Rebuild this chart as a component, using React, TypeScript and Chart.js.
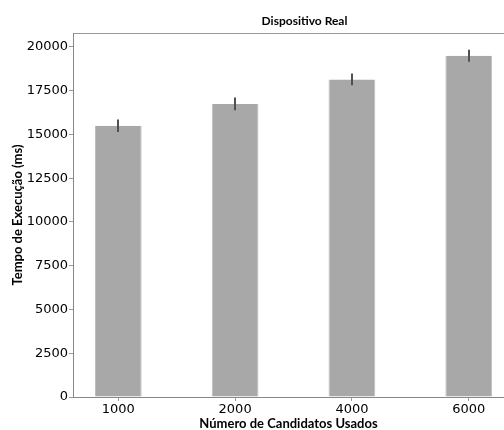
import React, { useEffect, useRef } from 'react';
import { Chart, registerables } from 'chart.js';

Chart.register(...registerables);

const titleText = 'Dispositivo Real';
const xTitle = 'Número de Candidatos Usados';
const yTitle = 'Tempo de Execução (ms)';
const categories = ['1000', '2000', '4000', '6000'];
const times = [15500, 16750, 18150, 19500];
const errors = [360, 360, 330, 340];
const yTicks = [0, 2500, 5000, 7500, 10000, 12500, 15000, 17500, 20000];

export default function App() {
  const ref = useRef<HTMLCanvasElement>(null);

  useEffect(() => {
    if (!ref.current) return;
    const xMin = -0.388;
    const xMax = 3.302;

    const errorBars = {
      id: 'errorBars',
      afterDatasetsDraw(chart: any) {
        const { ctx, scales } = chart;
        const x = scales.x;
        const y = scales.y;
        ctx.save();
        ctx.strokeStyle = '#505050';
        ctx.lineWidth = 2;
        times.forEach((v, i) => {
          const px = Math.round(x.getPixelForValue(i));
          ctx.beginPath();
          ctx.moveTo(px, y.getPixelForValue(v - errors[i]));
          ctx.lineTo(px, y.getPixelForValue(v + errors[i]));
          ctx.stroke();
        });
        ctx.restore();
      },
    };

    const figTitle = {
      id: 'figTitle',
      afterDraw(chart: any) {
        const { ctx, chartArea } = chart;
        ctx.save();
        ctx.font = 'bold 12px Lato';
        ctx.fillStyle = '#000';
        ctx.textAlign = 'center';
        ctx.textBaseline = 'middle';
        ctx.fillText(titleText, chartArea.left + 231.5, chartArea.top - 12);
        ctx.restore();
      },
    };

    const tickFont = { family: 'DejaVu Sans', size: 13 };
    const titleFont = { family: 'Lato', size: 13, weight: 'bold' as const, lineHeight: 1 };

    const chart = new Chart(ref.current, {
      type: 'bar',
      data: {
        datasets: [
          {
            data: times.map((v, i) => ({ x: i, y: v })),
            backgroundColor: '#a8a8a8',
            borderColor: '#bdbdbd',
            borderWidth: { left: 1, right: 1, top: 0, bottom: 0 },
            borderSkipped: false,
            barPercentage: 0.4,
            categoryPercentage: 1,
            xAxisID: 'x',
            yAxisID: 'y',
          } as any,
        ],
      },
      options: {
        animation: false,
        responsive: false,
        devicePixelRatio: 1,
        layout: { padding: { top: 33, left: 0, right: 0, bottom: 0 } },
        plugins: {
          legend: { display: false },
          tooltip: { enabled: false },
          title: { display: false },
        },
        scales: {
          x: {
            type: 'linear',
            position: 'bottom',
            offset: false,
            min: xMin,
            max: xMax,
            afterBuildTicks: (a: any) => {
              a.ticks = categories.map((_, i) => ({ value: i }));
            },
            afterFit: (s: any) => {
              s.height = 33;
            },
            ticks: {
              font: tickFont,
              color: '#000',
              padding: 1,
              callback: (v: any) => categories[v as number] ?? '',
            },
            grid: {
              display: true,
              offset: false,
              drawOnChartArea: false,
              drawTicks: true,
              tickLength: 4,
              color: '#999',
            },
            border: { display: true, color: '#888' },
            title: {
              display: true,
              text: xTitle,
              font: titleFont,
              color: '#000',
              padding: { top: 0, bottom: 0 },
            },
          },
          x2: {
            type: 'linear',
            position: 'top',
            offset: false,
            min: xMin,
            max: xMax,
            afterFit: (s: any) => {
              s.height = 0;
            },
            ticks: { display: false },
            grid: { display: false, drawTicks: false },
            border: { display: true, color: '#999' },
          },
          y: {
            type: 'linear',
            min: 0,
            max: 20800,
            afterBuildTicks: (a: any) => {
              a.ticks = yTicks.map((v) => ({ value: v }));
            },
            afterFit: (s: any) => {
              s.width = 73;
            },
            ticks: {
              font: tickFont,
              color: '#000',
              padding: 1,
              callback: (v: any) => String(v),
            },
            grid: {
              display: true,
              drawOnChartArea: false,
              drawTicks: true,
              tickLength: 4,
              color: '#999',
            },
            border: { display: true, color: '#888' },
            title: {
              display: true,
              text: yTitle,
              font: titleFont,
              color: '#000',
              padding: { top: 11, bottom: 0 },
            },
          },
        },
      },
      plugins: [errorBars, figTitle],
    });
    return () => chart.destroy();
  }, []);

  return (
    <div style={{ position: 'absolute', left: 0, top: 0, width: 504, height: 430, background: '#fff' }}>
      <canvas ref={ref} width={504} height={430} style={{ display: 'block' }} />
    </div>
  );
}
